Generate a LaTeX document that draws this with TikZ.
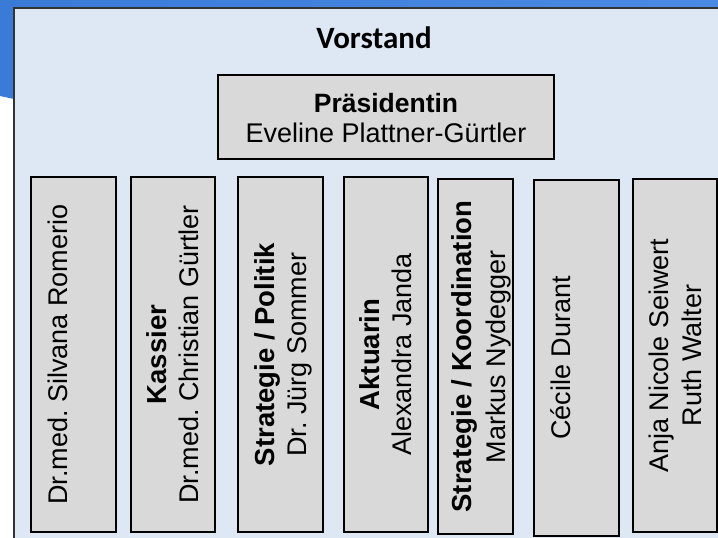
\documentclass[tikz,border=0pt]{standalone}
\usepackage{fontspec}
\setmainfont{Liberation Sans}
\newfontfamily\carlito{Carlito}
\usetikzlibrary{calc}
\frenchspacing
\definecolor{bandA}{HTML}{3A7BD8}
\definecolor{bandB}{HTML}{4A8AE4}
\definecolor{panel}{HTML}{DDE8F4}
\definecolor{boxgray}{HTML}{D9D9D9}
\begin{document}
\begin{tikzpicture}[x=1pt,y=-1pt,
  panelbox/.style={draw=black!80, line width=1.6pt, fill=panel},
  graybox/.style={draw=black, line width=1.3pt, fill=boxgray, inner sep=0pt},
  coltext/.style={rotate=90, anchor=base, inner sep=0pt, font=\frenchspacing\fontsize{27}{32}\selectfont},
  boldtext/.style={coltext, font=\frenchspacing\bfseries\fontsize{27.5}{32}\selectfont},
  ]
\useasboundingbox (0,0) rectangle (718,538);
\begin{scope}
\clip (0,0) rectangle (718,538);
\shade[left color=bandA, right color=bandB] (0,0) -- (718,0) -- (718,100) -- (14,99) -- (0,96) -- cycle;
\draw[panelbox] (14,8) rectangle (722,542);

\node[anchor=base, inner sep=0pt, font=\carlito\bfseries\fontsize{31}{36}\selectfont] (title) at (374,48) {Vorstand};

\node[graybox, minimum width=336pt, minimum height=84pt] (pres) at (386,117) {};
\node[anchor=base, inner sep=0pt, font=\bfseries\fontsize{26.5}{32}\selectfont] (prestitle) at (386,112) {Präsidentin};
\node[anchor=base, inner sep=0pt, font=\fontsize{27}{32}\selectfont] (presname) at (386,142) {Eveline Plattner-Gürtler};

\node[graybox, minimum width=85pt, minimum height=355pt] (c1) at (73.5,354.5) {};
\node[graybox, minimum width=84pt, minimum height=355pt] (c2) at (173,354.5) {};
\node[graybox, minimum width=85pt, minimum height=355pt] (c3) at (280.5,354.5) {};
\node[graybox, minimum width=84pt, minimum height=355pt] (c4) at (386,354.5) {};
\node[graybox, minimum width=75pt, minimum height=355pt] (c5) at (475.5,356.5) {};
\node[graybox, minimum width=85pt, minimum height=356pt] (c6) at (576.5,358) {};
\node[graybox, minimum width=84pt, minimum height=353pt] (c7) at (675,355.5) {};

\node[coltext] (t1a) at ($(c1.center)+(-6.5,0)$) {Dr.med. Silvana Romerio};
\node[boldtext] (t2a) at ($(c2.center)+(-6.5,0)$) {Kassier};
\node[coltext] (t2b) at ($(c2.center)+(25.5,0)$) {Dr.med. Christian Gürtler};
\node[boldtext] (t3a) at ($(c3.center)+(-6.5,0)$) {Strategie / Politik};
\node[coltext] (t3b) at ($(c3.center)+(25.5,0)$) {Dr. Jürg Sommer};
\node[boldtext] (t4a) at ($(c4.center)+(-6.5,0)$) {Aktuarin};
\node[coltext] (t4b) at ($(c4.center)+(25.5,0)$) {Alexandra Janda};
\node[boldtext] (t5a) at ($(c5.center)+(-4.5,0)$) {Strategie / Koordination};
\node[coltext] (t5b) at ($(c5.center)+(29.5,0)$) {Markus Nydegger};
\node[coltext] (t6a) at ($(c6.center)+(-6.5,0)$) {Cécile Durant};
\node[coltext] (t7a) at ($(c7.center)+(-6.5,0)$) {Anja Nicole Seiwert};
\node[coltext] (t7b) at ($(c7.center)+(26.5,0)$) {Ruth Walter};
\end{scope}
\end{tikzpicture}
\end{document}
